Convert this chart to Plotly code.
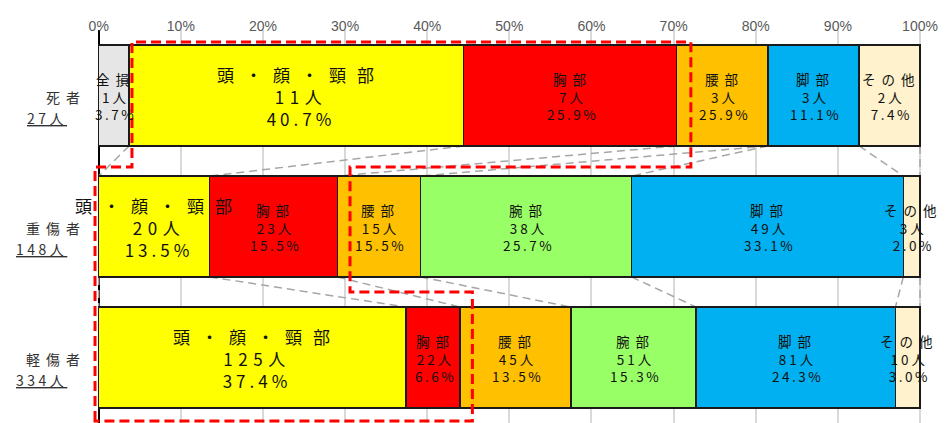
import plotly.graph_objects as go

# ---------------- data ----------------
rows = ["死者", "重傷者", "軽傷者"]
row_totals = ["27人", "148人", "334人"]

parts = ["全損", "頭・顔・頸部", "胸部", "腰部", "腕部", "脚部", "その他"]

zenson = [1, 0, 0]
atama = [11, 20, 125]
mune = [7, 23, 22]
koshi = [3, 15, 45]
ude = [0, 38, 51]
ashi = [3, 49, 81]
sonota = [2, 3, 10]

pct_zenson = ["3.7%", "", ""]
pct_atama = ["40.7%", "13.5%", "37.4%"]
pct_mune = ["25.9%", "15.5%", "6.6%"]
pct_koshi = ["25.9%", "15.5%", "13.5%"]
pct_ude = ["", "25.7%", "15.3%"]
pct_ashi = ["11.1%", "33.1%", "24.3%"]
pct_sonota = ["7.4%", "2.0%", "3.0%"]

tick_vals = [0, 10, 20, 30, 40, 50, 60, 70, 80, 90, 100]
tick_text = ["0%", "10%", "20%", "30%", "40%", "50%", "60%", "70%", "80%", "90%", "100%"]

# ---------------- styles ----------------
colors = ["#E6E6E6", "#FFFF00", "#FF0000", "#FFC000", "#99FF66", "#00B0F0", "#FFF2CC"]
CJK = "Noto Sans CJK JP"
BAR_W = 0.77

counts = [zenson, atama, mune, koshi, ude, ashi, sonota]
pcts = [pct_zenson, pct_atama, pct_mune, pct_koshi, pct_ude, pct_ashi, pct_sonota]
totals = [sum(c[i] for c in counts) for i in range(len(rows))]
ypos = list(range(len(rows)))


def sp(s, ls):
    return f'<span style="letter-spacing:{ls}px">{s}</span>'


fig = go.Figure()
annotations = []
cum = [[0.0] * len(rows)]
for k, part in enumerate(parts):
    widths = [counts[k][i] / totals[i] * 100 if counts[k][i] > 0 else None for i in range(len(rows))]
    fig.add_trace(go.Bar(
        y=ypos, x=widths, orientation="h", width=BAR_W,
        marker=dict(color=colors[k], line=dict(color="#1a1a1a", width=1.5)),
        hoverinfo="skip", showlegend=False, name=part,
    ))
    prev = cum[-1]
    cum.append([prev[i] + (widths[i] or 0) for i in range(len(rows))])
    for i in range(len(rows)):
        if not widths[i]:
            continue
        cx = prev[i] + widths[i] / 2
        big = part == "頭・顔・頸部"
        if big:
            txt = "<br>".join([sp(part, 11), sp(f"{counts[k][i]}人", 5.5), sp(pcts[k][i], 4)])
            fsize = 17
            xs = 5
        else:
            txt = "<br>".join([sp(part, 6), sp(f"{counts[k][i]}人", 3), sp(pcts[k][i], 2.5)])
            fsize = 13.5
            xs = 2
        annotations.append(dict(
            x=cx, y=ypos[i], xref="x", yref="y", text=txt, showarrow=False,
            xanchor="center", yanchor="middle", yshift=-1, xshift=xs,
            font=dict(family=CJK, size=fsize, color="#111111"), align="center",
        ))

# row labels
for i, r in enumerate(rows):
    annotations.append(dict(
        x=0, y=ypos[i], xref="paper", yref="y", text=sp(r, 6), showarrow=False,
        xanchor="right", yanchor="middle", xshift=0, yshift=-1,
        font=dict(family=CJK, size=14, color="#333333"),
    ))
    annotations.append(dict(
        x=0, y=ypos[i], xref="paper", yref="y", text="<u>" + sp(row_totals[i], 3.5) + "</u>",
        showarrow=False, xanchor="right", yanchor="middle", xshift=-19, yshift=-22,
        font=dict(family=CJK, size=14, color="#333333"),
    ))

shapes = []
# series lines between consecutive bars
for i in range(len(rows) - 1):
    for k in range(1, len(cum)):
        shapes.append(dict(
            type="line", xref="x", yref="y",
            x0=cum[k][i], y0=ypos[i] + BAR_W / 2,
            x1=cum[k][i + 1], y1=ypos[i + 1] - BAR_W / 2,
            line=dict(color="#A6A6A6", width=1.5, dash="8px,5px"), layer="between",
        ))

# red dashed highlight outline (head + chest region)
outline = [(-0.45, 2.485), (-0.45, 0.546), (4.05, 0.546), (4.05, -0.408), (72.1, -0.408),
           (72.1, 0.546), (30.6, 0.546), (30.6, 1.5), (45.5, 1.5), (45.5, 2.485)]
path = "M " + " L ".join(f"{x},{y}" for x, y in outline) + " Z"
shapes.append(dict(type="path", xref="x", yref="y", path=path,
                   line=dict(color="#FF0000", width=3, dash="10px,5px"), layer="above"))

fig.update_layout(
    template="none",
    width=938, height=415,
    margin=dict(l=80, r=18, t=22, b=0, autoexpand=False),
    paper_bgcolor="white", plot_bgcolor="white",
    barmode="stack", bargap=0.23,
    annotations=annotations, shapes=shapes,
    xaxis=dict(
        range=[-1.303, 100.974], side="top", tickvals=tick_vals, ticktext=tick_text,
        showgrid=True, gridcolor="#D9D9D9", gridwidth=1.5, automargin=False,
        zeroline=True, zerolinecolor="#000000", zerolinewidth=2, showline=False,
        tickfont=dict(family="Liberation Sans, Arial", size=14, color="#595959"),
        ticks="", ticklabelstandoff=-5, fixedrange=True,
    ),
    yaxis=dict(range=[2.5, -0.5], showticklabels=False, showgrid=False, zeroline=False,
               showline=False, automargin=False, fixedrange=True),
)

fig.write_html("out.html")
